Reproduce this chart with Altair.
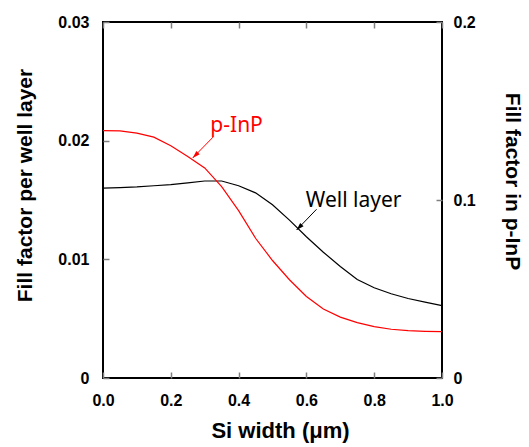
import altair as alt
import pandas as pd

# ---- data ----
si_width = [0.0, 0.05, 0.1, 0.15, 0.2, 0.25, 0.3, 0.35, 0.4, 0.45, 0.5,
            0.55, 0.6, 0.65, 0.7, 0.75, 0.8, 0.85, 0.9, 0.95, 1.0]
well_layer_ff = [0.0160, 0.01605, 0.0161, 0.0162, 0.0163, 0.01645, 0.0166, 0.0166,
                 0.0162, 0.0156, 0.0146, 0.0133, 0.0119, 0.0106, 0.0094, 0.0083,
                 0.0076, 0.0071, 0.0067, 0.0064, 0.0061]
p_inp_ff = [0.139, 0.1388, 0.1376, 0.1353, 0.1305, 0.1245, 0.118, 0.1075, 0.094,
            0.0785, 0.066, 0.0552, 0.0458, 0.0388, 0.0342, 0.0311, 0.0289, 0.0274,
            0.0266, 0.0262, 0.026]

x_ticks = [0.0, 0.2, 0.4, 0.6, 0.8, 1.0]
left_ticks = [0.0, 0.01, 0.02, 0.03]
right_ticks = [0.0, 0.1, 0.2]

# annotations (in Si width / left-axis units)
label_text = ["p-InP", "Well layer"]
label_x = [0.394, 0.7395]
label_y = [0.0207, 0.01444]
label_color = ["#ff0000", "#000000"]
arrow_x0 = [0.325, 0.630]
arrow_y0 = [0.02031, 0.01422]
arrow_x1 = [0.2646, 0.571]
arrow_y1 = [0.01854, 0.01247]

df = pd.DataFrame({"x": si_width, "well": well_layer_ff, "pinp": p_inp_ff})
ann = pd.DataFrame({"t": label_text, "x": label_x, "y": label_y, "c": label_color,
                    "x0": arrow_x0, "y0": arrow_y0, "x1": arrow_x1, "y1": arrow_y1})

FONT = "Liberation Sans"
TICK = 6
xscale = alt.Scale(domain=[0, 1], nice=False, zero=False)
lscale = alt.Scale(domain=[0, 0.03], nice=False)
rscale = alt.Scale(domain=[0, 0.2], nice=False)

common_axis = dict(grid=False, domain=False, tickSize=TICK, offset=-TICK,
                   tickColor="#808080", tickWidth=1.5,
                   labelFont=FONT, labelFontSize=16, labelFontWeight="bold",
                   labelColor="black", labelFlush=False, labelOverlap=False,
                   titleFont=FONT, titleFontWeight="bold", titleColor="black",
                   titleAlign="center", titleBaseline="middle")

x_bottom = alt.Axis(title="Si width (μm)", values=x_ticks, format=".1f",
                    labelPadding=14, titleFontSize=22, titleX=177, titleY=58,
                    **common_axis)
x_top = alt.Axis(orient="top", title=None, values=x_ticks, labels=False,
                 **{k: v for k, v in common_axis.items() if not k.startswith("title")})
y_left = alt.Axis(title="Fill factor per well layer", values=left_ticks,
                  labelExpr="datum.value == 0 ? '0' : format(datum.value, '.2f')",
                  labelPadding=14, titleFontSize=21, titleX=-84, titleY=163,
                  titleAngle=270, **common_axis)
y_right = alt.Axis(orient="right", title="Fill factor in p-InP", values=right_ticks,
                   labelExpr="datum.value == 0 ? '0' : format(datum.value, '.1f')",
                   labelPadding=11, titleFontSize=21, titleX=75, titleY=159,
                   titleAngle=90, **common_axis)

base = alt.Chart(df)

well_line = base.mark_line(color="black", strokeWidth=1.2).encode(
    x=alt.X("x:Q", scale=xscale, axis=x_bottom),
    y=alt.Y("well:Q", scale=lscale, axis=y_left),
)

ann_base = alt.Chart(ann)
texts = ann_base.mark_text(font="Noto Sans", fontSize=21, baseline="alphabetic",
                           align="center").encode(
    x=alt.X("x:Q", scale=xscale, axis=x_bottom),
    y=alt.Y("y:Q", scale=lscale, axis=y_left),
    text="t:N",
    color=alt.Color("c:N", scale=None),
)
shafts = ann_base.mark_rule(strokeWidth=1).encode(
    x=alt.X("x0:Q", scale=xscale, axis=x_bottom),
    y=alt.Y("y0:Q", scale=lscale, axis=y_left),
    x2="x1:Q", y2="y1:Q",
    color=alt.Color("c:N", scale=None),
)
heads = ann_base.mark_point(shape="M0,0 L-0.5,1.6 L0.5,1.6 Z", filled=True,
                            size=90, angle=224.5, opacity=1).encode(
    x=alt.X("x1:Q", scale=xscale, axis=x_bottom),
    y=alt.Y("y1:Q", scale=lscale, axis=y_left),
    color=alt.Color("c:N", scale=None),
)

left_group = alt.layer(well_line, shafts, heads, texts)

pinp_line = base.mark_line(color="#ff0000", strokeWidth=1.2).encode(
    x=alt.X("x:Q", scale=xscale, axis=x_top),
    y=alt.Y("pinp:Q", scale=rscale, axis=y_right),
)

chart = alt.layer(left_group, pinp_line).resolve_scale(
    y="independent"
).resolve_axis(x="independent").properties(
    width=339, height=356,
    autosize=alt.AutoSizeParams(type="none"),
    padding={"left": 103, "top": 22, "right": 87, "bottom": 69},
).configure_view(stroke="black", strokeWidth=2)

chart.save("out.html", embed_options={"renderer": "svg", "actions": False})
